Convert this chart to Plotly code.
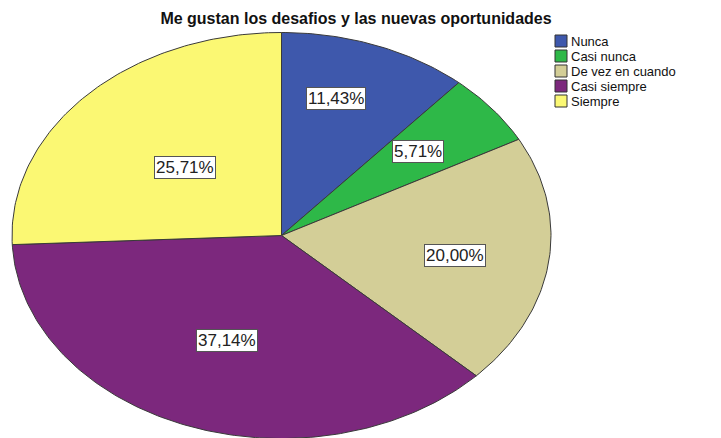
import numpy as np
import plotly.graph_objects as go

# Data
categories = ["Nunca", "Casi nunca", "De vez en cuando", "Casi siempre", "Siempre"]
counts = [4, 2, 7, 13, 9]
colors = ["#3E58AC", "#2EB848", "#D3CE97", "#7C287D", "#FBF873"]
title = "Me gustan los desafios y las nuevas oportunidades"

# Layout geometry (screen pixel coordinates, y grows downward)
W, H = 721, 438
OFF = 8  # page body margin
CX, CY = 281.5, 235.5
RX, RY = 269.5, 203.0
EDGE = "#3a3a3a"
FONT = "Liberation Sans, Arial"
# radial fraction (x, y) where each percentage label sits
label_frac = [(0.575, 0.72), (0.65, 0.66), (0.65, 0.72), (0.575, 0.55), (0.495, 0.488)]

total = sum(counts)
shares = [c / total for c in counts]


def ell_point(theta, fx=1.0, fy=1.0):
    # theta measured clockwise from 12 o'clock
    return CX + fx * RX * np.sin(theta), CY - fy * RY * np.cos(theta)


fig = go.Figure()
start = 0.0
for i, (cat, s) in enumerate(zip(categories, shares)):
    a0 = start * 2 * np.pi
    a1 = (start + s) * 2 * np.pi
    th = np.linspace(a0, a1, max(int(s * 400), 8))
    ex, ey = ell_point(th)
    xs = np.concatenate([[CX], ex, [CX]])
    ys = np.concatenate([[CY], ey, [CY]])
    fig.add_trace(go.Scatter(
        x=xs, y=ys, mode="lines", fill="toself",
        fillcolor=colors[i], line=dict(color=EDGE, width=1),
        name=cat, showlegend=False, hoverinfo="skip",
    ))
    mid = (a0 + a1) / 2
    lx, ly = ell_point(mid, *label_frac[i])
    pct = f"{s * 100:.2f}".replace(".", ",") + "%"
    fig.add_annotation(
        x=lx, y=ly, text=pct, showarrow=False,
        font=dict(family=FONT, size=17, color="#222"),
        bgcolor="white", bordercolor="#555", borderwidth=1, borderpad=1,
    )
    start += s

# Legend drawn by hand to match the compact SPSS look
for i, cat in enumerate(categories):
    y0 = 35 + i * 15
    fig.add_shape(type="rect", x0=555, x1=567, y0=y0, y1=y0 + 12,
                  fillcolor=colors[i], line=dict(color="#333", width=1))
    fig.add_annotation(x=570, y=y0 + 6.5, text=cat, showarrow=False,
                       xanchor="left", yanchor="middle", borderpad=0,
                       font=dict(family=FONT, size=13, color="#111"))

fig.update_layout(
    width=W, height=H,
    margin=dict(l=0, r=0, t=0, b=0),
    paper_bgcolor="white", plot_bgcolor="white",
    title=dict(text=f"<b>{title}</b>", x=(356 - OFF) / W, y=1 - (18 - OFF) / H,
               xanchor="center", yanchor="middle",
               font=dict(family=FONT, size=16, color="#111")),
    xaxis=dict(range=[OFF, W + OFF], visible=False, fixedrange=True),
    yaxis=dict(range=[H + OFF, OFF], visible=False, fixedrange=True),
    showlegend=False,
)

fig.write_html("out.html")
